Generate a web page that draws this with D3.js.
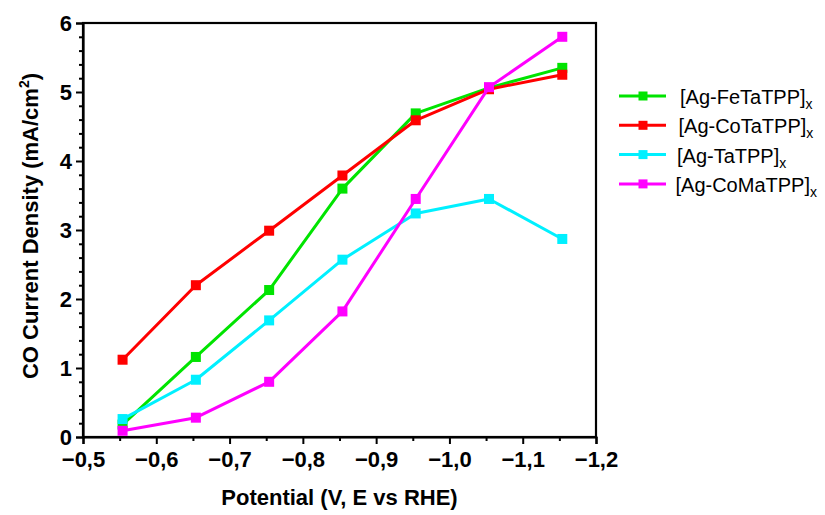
<!DOCTYPE html>
<html>
<head>
<meta charset="utf-8">
<script src="https://cdn.jsdelivr.net/npm/d3@7"></script>
<style>
  html, body { margin: 0; padding: 0; background: #fff; }
  svg { display: block; font-family: "Liberation Sans", Arial, sans-serif; }
</style>
</head>
<body>
<svg id="chart" width="825" height="515"></svg>
<script>
// Potential (V vs RHE) at which each electrode was measured
const potentials = [-0.554, -0.654, -0.754, -0.854, -0.954, -1.054, -1.154];

// CO partial current density (mA/cm²) per catalyst
const feTaTPP = [0.18, 1.16, 2.13, 3.60, 4.69, 5.06, 5.35];
const coTaTPP = [1.12, 2.20, 2.99, 3.79, 4.59, 5.04, 5.25];
const taTPP   = [0.26, 0.83, 1.69, 2.57, 3.24, 3.45, 2.87];
const coMaTPP = [0.09, 0.28, 0.80, 1.82, 3.45, 5.07, 5.80];

const seriesNames = ["[Ag-FeTaTPP]", "[Ag-CoTaTPP]", "[Ag-TaTPP]", "[Ag-CoMaTPP]"];
const seriesColors = ["#00e400", "#ff0000", "#00f0ff", "#ff00ff"];
const seriesValues = [feTaTPP, coTaTPP, taTPP, coMaTPP];

const xTicks = [-0.5, -0.6, -0.7, -0.8, -0.9, -1.0, -1.1, -1.2];
const yTicks = [0, 1, 2, 3, 4, 5, 6];

const svg = d3.select("#chart");
const margin = { left: 83, right: 229, top: 23, bottom: 78 };
const W = 825, H = 515;

const x = d3.scaleLinear().domain([-0.5, -1.2]).range([margin.left, W - margin.right]);
const y = d3.scaleLinear().domain([0, 6]).range([H - margin.bottom, margin.top]);

const fmt = v => d3.format(".1f")(v).replace(".", ",");

// minor ticks
const xMinor = d3.range(-0.55, -1.2, -0.1);
const yMinor = d3.range(0, 6.0001, 0.2).filter(v => Math.abs(v - Math.round(v)) > 1e-6);

const plotBottom = y(0), plotTop = y(6);
const plotLeft = x(-0.5), plotRight = x(-1.2);

// x axis
const gx = svg.append("g").attr("transform", `translate(0,${plotBottom})`)
  .call(d3.axisBottom(x).tickValues(xTicks).tickFormat(fmt).tickSize(7).tickPadding(7));
svg.append("g").attr("transform", `translate(0,${plotBottom})`)
  .call(d3.axisBottom(x).tickValues(xMinor).tickFormat("").tickSize(4))
  .call(g => g.select(".domain").remove());

// y axis
const gy = svg.append("g").attr("transform", `translate(${plotLeft},0)`)
  .call(d3.axisLeft(y).tickValues(yTicks).tickFormat(d3.format("d")).tickSize(7).tickPadding(4));
svg.append("g").attr("transform", `translate(${plotLeft},0)`)
  .call(d3.axisLeft(y).tickValues(yMinor).tickFormat("").tickSize(4))
  .call(g => g.select(".domain").remove());

svg.selectAll(".tick line").attr("stroke", "#000").attr("stroke-width", 2);
svg.selectAll(".domain").attr("stroke", "#000").attr("stroke-width", 2.2);
svg.selectAll(".tick text")
  .attr("fill", "#000").attr("font-size", 22).attr("font-weight", "bold")
  .attr("font-family", "'Liberation Sans', Arial, sans-serif");

// frame around the plot area
svg.append("rect")
  .attr("x", plotLeft).attr("y", plotTop)
  .attr("width", plotRight - plotLeft).attr("height", plotBottom - plotTop)
  .attr("fill", "none").attr("stroke", "#000").attr("stroke-width", 2.2);

// series lines and markers
const line = d3.line().x((d, i) => x(potentials[i])).y(d => y(d));
const mk = 10;
seriesValues.forEach((vals, k) => {
  svg.append("path").datum(vals)
    .attr("d", line).attr("fill", "none")
    .attr("stroke", seriesColors[k]).attr("stroke-width", 3)
    .attr("stroke-linejoin", "round");
  svg.append("g").selectAll("rect").data(vals).join("rect")
    .attr("x", (d, i) => x(potentials[i]) - mk / 2)
    .attr("y", d => y(d) - mk / 2)
    .attr("width", mk).attr("height", mk)
    .attr("fill", seriesColors[k]);
});

// axis titles
svg.append("text")
  .attr("x", (plotLeft + plotRight) / 2).attr("y", 505)
  .attr("text-anchor", "middle").attr("font-size", 22).attr("font-weight", "bold")
  .text("Potential (V, E vs RHE)");

const yTitle = svg.append("text")
  .attr("transform", `translate(38,${(plotTop + plotBottom) / 2 - 4}) rotate(-90)`)
  .attr("text-anchor", "middle").attr("font-size", 22).attr("font-weight", "bold");
yTitle.append("tspan").text("CO Current Density (mA/cm");
yTitle.append("tspan").attr("font-size", 14).attr("dy", -9).text("2");
yTitle.append("tspan").attr("dy", 9).text(")");

// legend
const legend = svg.append("g");
seriesNames.forEach((name, k) => {
  const ly = 96 + k * 29.3;
  legend.append("line")
    .attr("x1", 619).attr("x2", 666).attr("y1", ly).attr("y2", ly)
    .attr("stroke", seriesColors[k]).attr("stroke-width", 3);
  legend.append("rect")
    .attr("x", 643 - 4.5).attr("y", ly - 4.5).attr("width", 9).attr("height", 9)
    .attr("fill", seriesColors[k]);
  const t = legend.append("text")
    .attr("x", 680 - k * 1.5).attr("y", ly + 8).attr("font-size", 20).attr("fill", "#000");
  t.append("tspan").text(name);
  t.append("tspan").attr("font-size", 14).attr("dy", 5).text("x");
});
</script>
</body>
</html>
